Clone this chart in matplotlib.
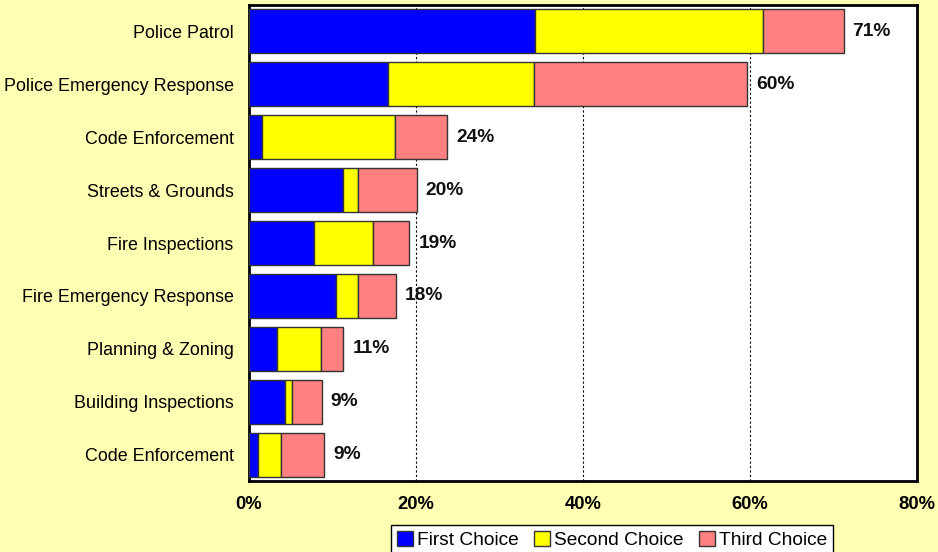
import numpy as np
import matplotlib
matplotlib.use("Agg")
import matplotlib.pyplot as plt
from matplotlib.patches import Patch

plt.rcParams["font.family"] = ["Liberation Sans", "DejaVu Sans"]

# categories, top to bottom
categories = [
    "Police Patrol",
    "Police Emergency Response",
    "Code Enforcement",
    "Streets & Grounds",
    "Fire Inspections",
    "Fire Emergency Response",
    "Planning & Zoning",
    "Building Inspections",
    "Code Enforcement",
]
# percent of respondents
first_choice = [34.2, 16.6, 1.6, 11.2, 7.8, 10.4, 3.3, 4.3, 1.1]
second_choice = [27.3, 17.5, 15.9, 1.9, 7.0, 2.6, 5.3, 0.9, 2.7]
third_choice = [9.7, 25.6, 6.2, 7.0, 4.4, 4.6, 2.7, 3.5, 5.2]
x_ticks = [0, 20, 40, 60, 80]

series = [
    ("First Choice", first_choice, "#0000FF"),
    ("Second Choice", second_choice, "#FFFF00"),
    ("Third Choice", third_choice, "#FF8080"),
]

bg = "#FFFFB4"
fig = plt.figure(figsize=(9.38, 5.52), dpi=100, facecolor=bg)
ax = fig.add_axes([249 / 938, 1 - 481 / 552, (917 - 249) / 938, (481 - 5) / 552])
ax.set_facecolor("white")

y = np.arange(len(categories))
left = np.zeros(len(categories))
for name, vals, color in series:
    ax.barh(y, vals, left=left, height=0.83, color=color,
            edgecolor="#333333", linewidth=1.0, zorder=3, label=name)
    left += np.array(vals)

# total labels at the end of each bar
for yi, total in zip(y, left):
    ax.annotate(f"{round(total)}%", xy=(total, yi), xytext=(6.5, 0),
                textcoords="offset points", va="center", ha="left",
                fontsize=13.8, fontweight="bold", color="#111111")

ax.set_xlim(0, 80)
ax.set_ylim(len(categories) - 0.5, -0.5)
ax.set_yticks(y)
ax.set_yticklabels(categories, fontsize=12.9)
ax.set_xticks(x_ticks)
ax.set_xticklabels([f"{t}%" for t in x_ticks], fontsize=13.2, fontweight="bold")
ax.tick_params(axis="y", length=0, pad=11)
ax.tick_params(axis="x", length=0, pad=11)

for v in x_ticks[1:-1]:
    ax.axvline(v, color="black", linestyle=(0, (2, 2)), linewidth=0.8, zorder=1)

for s in ax.spines.values():
    s.set_linewidth(2.0)
    s.set_color("black")

handles = [Patch(facecolor=c, edgecolor="#333333", label=n) for n, _, c in series]
leg = fig.legend(handles=handles, loc="upper center",
                 bbox_to_anchor=(612 / 938, 1 - 525 / 552), ncol=3,
                 fontsize=13.8, frameon=True, fancybox=False, framealpha=1,
                 edgecolor="black", handlelength=0.85, handleheight=0.85,
                 handletextpad=0.2, columnspacing=0.8, borderpad=0.3,
                 borderaxespad=0)
leg.get_frame().set_linewidth(1.0)

fig.savefig("out.png", dpi=100, facecolor=bg)
